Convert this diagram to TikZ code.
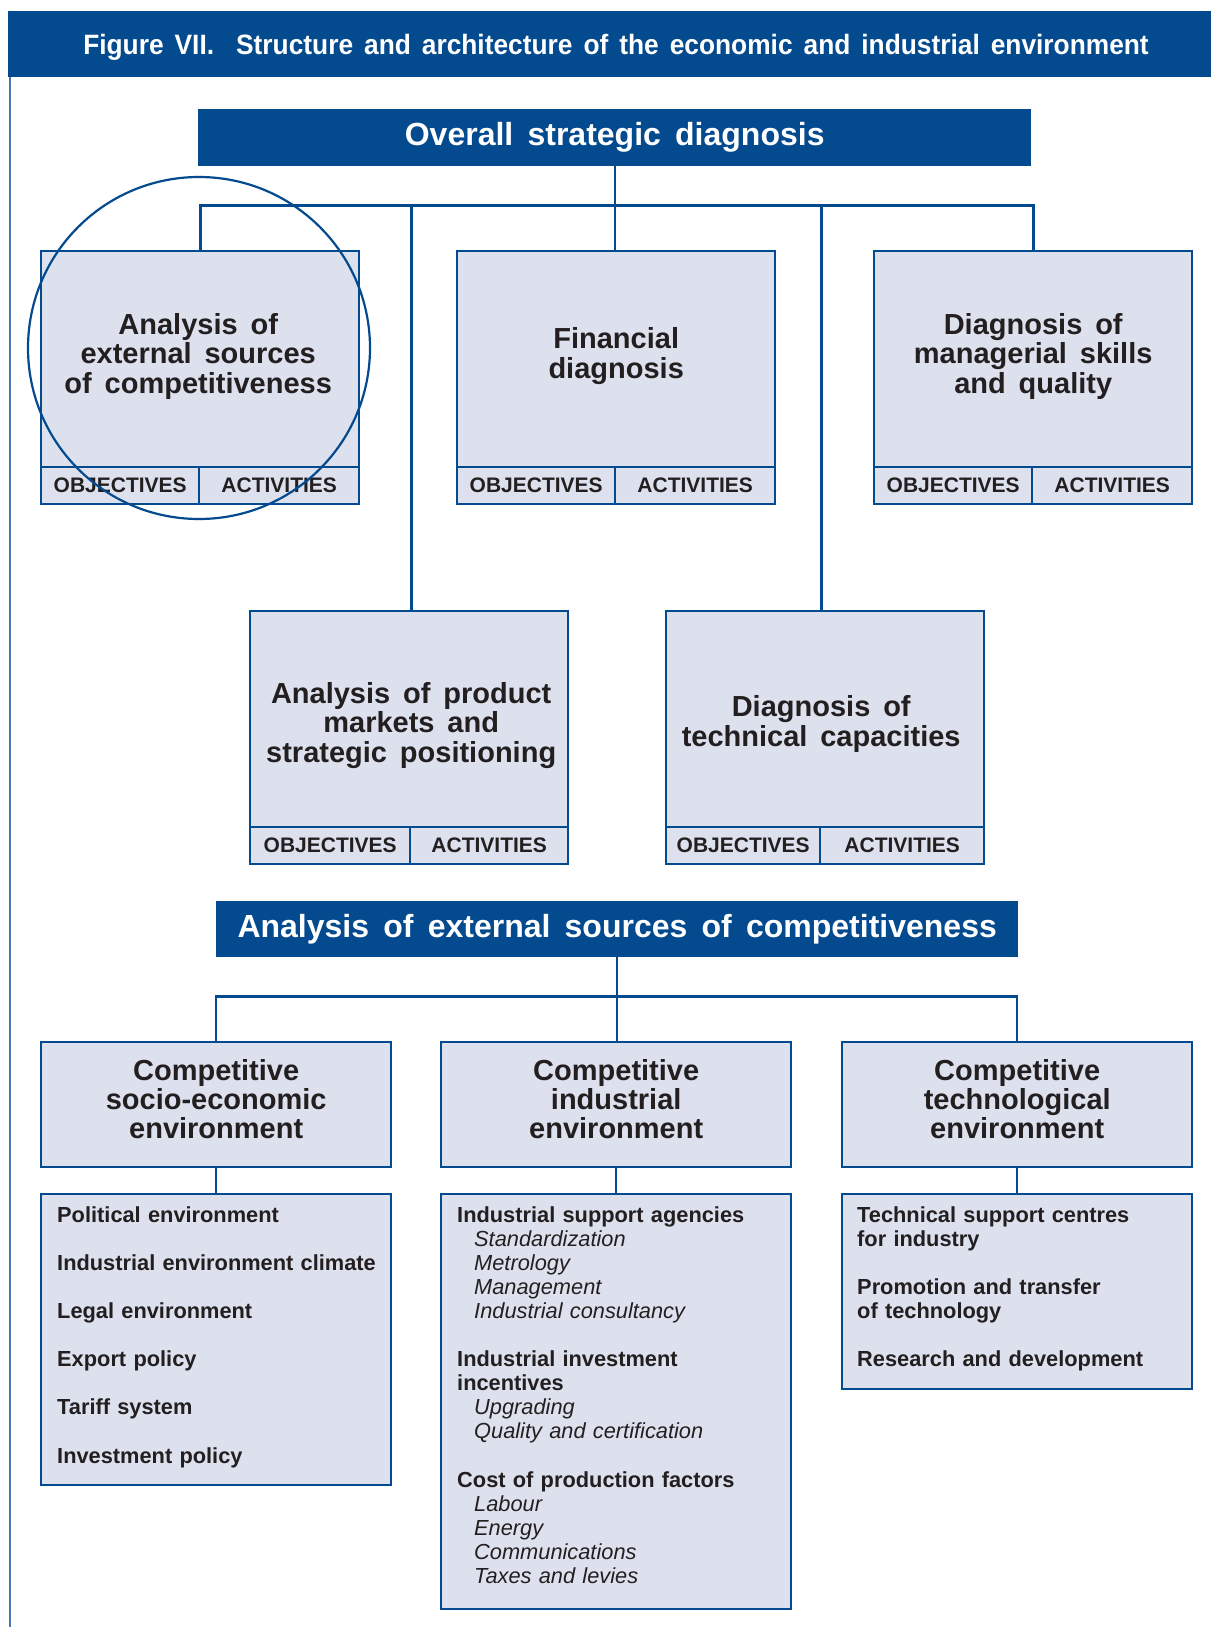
\documentclass[tikz,border=0pt]{standalone}
\usepackage{fontspec}
\setmainfont{Liberation Sans}[WordSpace=1.6]
\newfontfamily\condfont{Liberation Sans}[FakeStretch=0.94,WordSpace=1.5]
\definecolor{unblue}{HTML}{044A8F}
\definecolor{boxfill}{HTML}{DDE1EE}
\definecolor{ink}{HTML}{231F20}
\definecolor{framebl}{HTML}{4A78B5}

\newcommand\diagunit[7]{% name, left, top, divider x, text, text yshift, text xshift
  \node[framebox, minimum width=318pt, minimum height=216pt] (#1) at (#2,#3) {};
  \node[boxtext] (#1t) at ([yshift=#6,xshift=#7]#1.center) {#5};
  \node[cell, anchor=north west, minimum width={#4-#2}, minimum height=37pt] (#1o) at (#2,#3+216) {OBJECTIVES};
  \node[cell, anchor=north west, minimum width={#2+318-#4}, minimum height=37pt] (#1a) at (#4,#3+216) {ACTIVITIES};
}

\begin{document}
\begin{tikzpicture}[x=1pt,y=-1pt,
  bar/.style={fill=unblue, draw=none, text=white, inner sep=0pt, font=\bfseries\fontsize{32}{34}\selectfont},
  boxtext/.style={text=ink, align=center, inner sep=0pt, font=\bfseries\fontsize{29}{29.5}\selectfont},
  cell/.style={draw=unblue, fill=boxfill, line width=2.4pt, text=ink, inner sep=0pt, font=\bfseries\fontsize{21}{22}\selectfont},
  framebox/.style={draw=unblue, fill=boxfill, line width=2.4pt, inner sep=0pt, anchor=north west},
  listtext/.style={text=ink, align=left, inner sep=0pt, anchor=north west, text width=330pt, font=\bfseries\fontsize{21.8}{24.1}\selectfont},
  link/.style={draw=unblue, line width=2.2pt},
]
\useasboundingbox (0,0) rectangle (1211,1627);
\fill[white] (0,0) rectangle (1211,1627);

% frame line and title
\draw[framebl, line width=1.5pt] (10,77) -- (10,1627);
\node[fill=unblue, inner sep=0pt, minimum width=1203pt, minimum height=66pt, anchor=north west] (titlebar) at (8,11) {};
\node[text=white, inner sep=0pt, font=\condfont\bfseries\fontsize{28}{30}\selectfont] (titletext) at (616,47)
  {Figure VII.\hspace{22pt}Structure and architecture of the economic and industrial environment};

% overall bar
\node[bar, minimum width=833pt, minimum height=57pt, anchor=north west] (overall) at (198,109) {Overall strategic diagnosis};

% top row
\diagunit{a1}{40}{250}{198}{Analysis of\\external sources\\of competitiveness}{3pt}{-2pt}
\diagunit{a2}{456}{250}{614}{Financial\\diagnosis}{3pt}{0pt}
\diagunit{a3}{873}{250}{1031}{Diagnosis of\\managerial skills\\and quality}{3pt}{0pt}
% middle row
\diagunit{b1}{249}{610}{409}{Analysis of product\\markets and\\strategic positioning}{-6pt}{2pt}
\diagunit{b2}{665}{610}{819}{Diagnosis of\\technical capacities}{-5pt}{-4pt}

% connectors top
\coordinate (hub1) at ([yshift=-39pt]overall.south);
\draw[link] (overall.south) -- (hub1);
\draw[link] (a1o.north east |- a1.north) -- (a1o.north east |- hub1) -- (a3o.north east |- hub1) -- (a3o.north east |- a3.north);
\draw[link] (hub1) -- (hub1 |- a2.north);
\draw[link] (b1o.north east |- b1.north) -- (b1o.north east |- hub1);
\draw[link] (b2o.north east |- b2.north) -- (b2o.north east |- hub1);

% circle highlight
\draw[unblue, line width=2.2pt] (199,348) circle[radius=171pt];

% second bar
\node[bar, minimum width=802pt, minimum height=56pt, anchor=north west] (ext) at (216,901) {Analysis of external sources of competitiveness};
\coordinate (hub2) at ([yshift=-39pt]ext.south);

\node[framebox, minimum width=350pt, minimum height=125pt] (c1) at (40,1041) {};
\node[framebox, minimum width=350pt, minimum height=125pt] (c2) at (440,1041) {};
\node[framebox, minimum width=350pt, minimum height=125pt] (c3) at (841,1041) {};
\node[boxtext, font=\bfseries\fontsize{29}{29}\selectfont] (c1t) at ([yshift=6pt]c1.center) {Competitive\\socio-economic\\environment};
\node[boxtext, font=\bfseries\fontsize{29}{29}\selectfont] (c2t) at ([yshift=6pt]c2.center) {Competitive\\industrial\\environment};
\node[boxtext, font=\bfseries\fontsize{29}{29}\selectfont] (c3t) at ([yshift=6pt]c3.center) {Competitive\\technological\\environment};

\draw[link] (ext.south) -- (hub2);
\draw[link] (c1.north) -- (c1.north |- hub2) -- (c3.north |- hub2) -- (c3.north);
\draw[link] (hub2) -- (hub2 |- c2.north);

% list boxes
\node[framebox, minimum width=350pt, minimum height=291pt] (d1) at (40,1193) {};
\node[framebox, minimum width=350pt, minimum height=415pt] (d2) at (440,1193) {};
\node[framebox, minimum width=350pt, minimum height=195pt] (d3) at (841,1193) {};
\draw[link] (c1.south) -- (d1.north);
\draw[link] (c2.south) -- (d2.north);
\draw[link] (c3.south) -- (d3.north);

\node[listtext] (d1t) at (57,1206) {Political environment\\[24.1pt]Industrial environment climate\\[24.1pt]Legal environment\\[24.1pt]Export policy\\[24.1pt]Tariff system\\[24.1pt]Investment policy};

\node[listtext] (d2t) at (457,1206) {Industrial support agencies\\
{\mdseries\itshape\hspace*{17pt}Standardization}\\
{\mdseries\itshape\hspace*{17pt}Metrology}\\
{\mdseries\itshape\hspace*{17pt}Management}\\
{\mdseries\itshape\hspace*{17pt}Industrial consultancy}\\[24.1pt]
Industrial investment\\incentives\\
{\mdseries\itshape\hspace*{17pt}Upgrading}\\
{\mdseries\itshape\hspace*{17pt}Quality and certification}\\[24.1pt]
Cost of production factors\\
{\mdseries\itshape\hspace*{17pt}Labour}\\
{\mdseries\itshape\hspace*{17pt}Energy}\\
{\mdseries\itshape\hspace*{17pt}Communications}\\
{\mdseries\itshape\hspace*{17pt}Taxes and levies}};

\node[listtext] (d3t) at (857,1206) {Technical support centres\\for industry\\[24.1pt]Promotion and transfer\\of technology\\[24.1pt]Research and development};
\end{tikzpicture}
\end{document}
